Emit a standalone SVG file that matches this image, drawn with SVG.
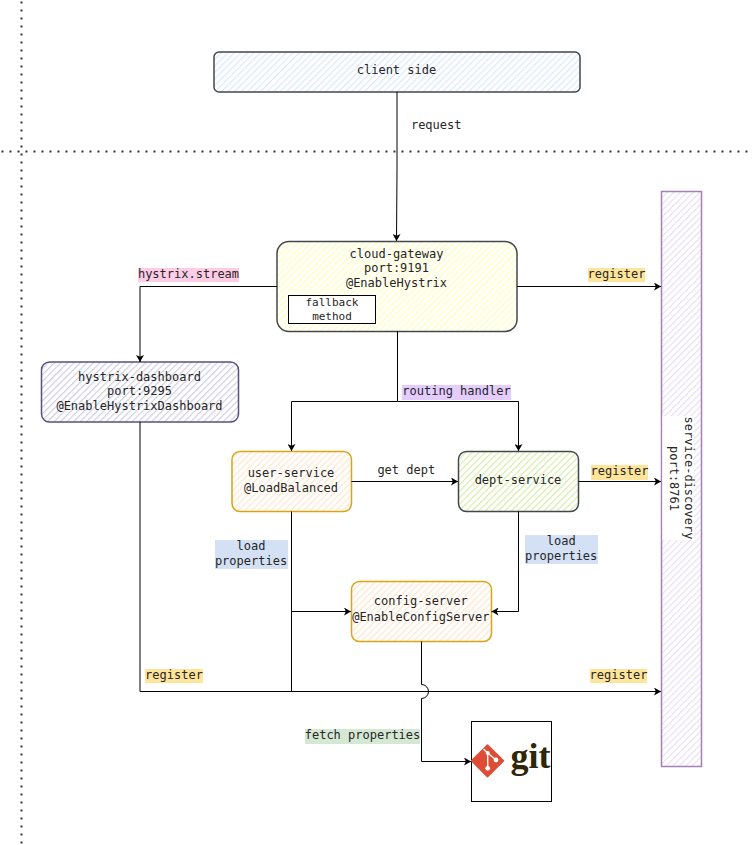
<svg xmlns="http://www.w3.org/2000/svg" width="753" height="845" viewBox="0 0 753 845">
<style>
text{font-family:"DejaVu Sans Mono","Liberation Mono",monospace;font-size:12px;fill:#262626;text-anchor:middle}
.b{stroke-width:1.5}
.c{fill:none;stroke:#000;stroke-width:1}
.d{fill:none;stroke:#333;stroke-width:2;stroke-dasharray:2 6}
</style>
<defs>
<pattern id="hb" width="4.6" height="4.6" patternUnits="userSpaceOnUse" patternTransform="rotate(45)"><rect width="4.6" height="4.6" fill="#fff"/><rect width="1.2" height="4.6" fill="#dae8fc"/></pattern>
<pattern id="hy" width="4.6" height="4.6" patternUnits="userSpaceOnUse" patternTransform="rotate(45)"><rect width="4.6" height="4.6" fill="#fff"/><rect width="1.2" height="4.6" fill="#ffffb3"/></pattern>
<pattern id="hd" width="4.6" height="4.6" patternUnits="userSpaceOnUse" patternTransform="rotate(45)"><rect width="4.6" height="4.6" fill="#fff"/><rect width="1.2" height="4.6" fill="#d0cee2"/></pattern>
<pattern id="ho" width="4.6" height="4.6" patternUnits="userSpaceOnUse" patternTransform="rotate(45)"><rect width="4.6" height="4.6" fill="#fff"/><rect width="1.2" height="4.6" fill="#ffe6cc"/></pattern>
<pattern id="hg" width="4.6" height="4.6" patternUnits="userSpaceOnUse" patternTransform="rotate(45)"><rect width="4.6" height="4.6" fill="#fff"/><rect width="1.2" height="4.6" fill="#d7eda8"/></pattern>
<pattern id="hp" width="4.6" height="4.6" patternUnits="userSpaceOnUse" patternTransform="rotate(45)"><rect width="4.6" height="4.6" fill="#fff"/><rect width="1.2" height="4.6" fill="#e8dff0"/></pattern>
<marker id="a" markerWidth="8" markerHeight="8" refX="7" refY="4" orient="auto" markerUnits="userSpaceOnUse"><path d="M0 0L7 4L0 8L1.8 4Z" fill="#000"/></marker>
</defs>
<rect width="753" height="845" fill="#fff"/>
<g id="separators">
<path class="d" d="M1.5 151.5H753"/>
<path class="d" d="M21.5 1.5V845"/>
</g>
<g id="client-side">
<rect class="b" x="214" y="52" width="366" height="40" rx="5" fill="url(#hb)" stroke="#44474b"/>
<text x="396.500" y="74">client side</text>
</g>
<g id="cloud-gateway">
<rect class="b" x="277" y="241.500" width="240" height="90" rx="12" fill="url(#hy)" stroke="#44474b"/>
<text x="396.500" y="258">cloud-gateway</text>
<text x="396.500" y="272">port:9191</text>
<text x="396.500" y="287">@EnableHystrix</text>
<g id="fallback-method">
<rect x="288.500" y="295.500" width="87" height="28" fill="#fff" stroke="#000"/>
<text x="332" y="306" style="font-size:11px">fallback</text>
<text x="332" y="320" style="font-size:11px">method</text>
</g>
</g>
<g id="hystrix-dashboard">
<rect class="b" x="41.500" y="362" width="197" height="60" rx="8" fill="url(#hd)" stroke="#56517e"/>
<text x="139.500" y="381">hystrix-dashboard</text>
<text x="139.500" y="395">port:9295</text>
<text x="139.500" y="410">@EnableHystrixDashboard</text>
</g>
<g id="user-service">
<rect class="b" x="232" y="451.500" width="119.500" height="60" rx="8" fill="url(#ho)" stroke="#dda316"/>
<text x="291" y="477">user-service</text>
<text x="291" y="492">@LoadBalanced</text>
</g>
<g id="dept-service">
<rect class="b" x="458.500" y="451.500" width="120" height="60" rx="8" fill="url(#hg)" stroke="#44474b"/>
<text x="518" y="484">dept-service</text>
</g>
<g id="config-server">
<rect class="b" x="351.500" y="581.500" width="140" height="60" rx="8" fill="url(#ho)" stroke="#dda316"/>
<text x="420.800" y="605">config-server</text>
<text x="420.800" y="621">@EnableConfigServer</text>
</g>
<g id="service-discovery">
<rect class="b" x="661.500" y="191.500" width="40" height="575" fill="url(#hp)" stroke="#a680b8"/>
<rect x="662.500" y="416" width="31.500" height="124" fill="#fff"/>
<text transform="translate(684.500 478) rotate(90)">service-discovery</text>
<text transform="translate(669.500 478.500) rotate(90)">port:8761</text>
</g>
<g id="git">
<rect x="471.500" y="721.500" width="80" height="80" fill="#fff" stroke="#000"/>
<path d="M487.500 745L503.500 760.800L487.500 776.800L471.600 760.800Z" fill="#de4c36" stroke="#de4c36" stroke-width="1.500" stroke-linejoin="round"/>
<path d="M483.500 749L487.700 753L487.700 768M487.700 753L496 760" fill="none" stroke="#fff" stroke-width="1.400"/>
<circle cx="487.700" cy="768.300" r="2.400" fill="#fff"/><circle cx="496" cy="760" r="2.400" fill="#fff"/><circle cx="487.700" cy="753" r="2" fill="#fff"/>
<text x="530.500" y="768" style="font-family:'Liberation Serif',serif;font-size:36px;font-weight:bold;fill:#2f2707">git</text>
</g>
<g id="connectors">
<path class="c" marker-end="url(#a)" d="M397 92V170L396.500 241"/>
<path class="c" marker-end="url(#a)" d="M277 286.500H140V362"/>
<path class="c" marker-end="url(#a)" d="M517 286.500H661"/>
<path class="c" marker-end="url(#a)" d="M397.500 331V401.500H291.500V451"/>
<path class="c" marker-end="url(#a)" d="M397.500 401.500H518.500V451"/>
<path class="c" marker-end="url(#a)" d="M351.500 481.500H458"/>
<path class="c" marker-end="url(#a)" d="M578.500 481.500H661"/>
<path class="c" marker-end="url(#a)" d="M518.500 511.500V611.500H491.500"/>
<path class="c" marker-end="url(#a)" d="M291.500 511.500V611.500H351"/>
<path class="c" d="M291.500 611.500V691.500"/>
<path class="c" marker-end="url(#a)" d="M140 422V691.500H661"/>
<path class="c" marker-end="url(#a)" d="M421.500 641.500V684.500A7 7 0 0 1 421.500 698.500V761.500H471"/>
</g>
<g id="edge-labels">
<rect x="138" y="268" width="101" height="14" fill="#ffcce6"/><text x="188.500" y="278">hystrix.stream</text>
<text x="436.200" y="129">request</text>
<rect x="588" y="268" width="57" height="14" fill="#ffe599"/><text x="616.500" y="278">register</text>
<rect x="402" y="385" width="109" height="15" fill="#e5ccff"/><text x="456.500" y="395">routing handler</text>
<text x="406.300" y="474">get dept</text>
<rect x="591" y="465" width="57" height="15" fill="#ffe599"/><text x="619.500" y="475">register</text>
<rect x="215" y="540" width="73" height="29" fill="#d4e1f5"/><text x="251" y="550">load</text><text x="251" y="565">properties</text>
<rect x="525" y="535" width="73" height="29" fill="#d4e1f5"/><text x="561.200" y="545">load</text><text x="561.200" y="560">properties</text>
<rect x="145" y="669" width="58" height="14" fill="#ffe599"/><text x="174" y="679">register</text>
<rect x="590" y="669" width="57" height="14" fill="#ffe599"/><text x="618.500" y="679">register</text>
<rect x="305" y="729" width="115" height="15" fill="#d5e8d4"/><text x="362.500" y="739">fetch properties</text>
</g>
</svg>
